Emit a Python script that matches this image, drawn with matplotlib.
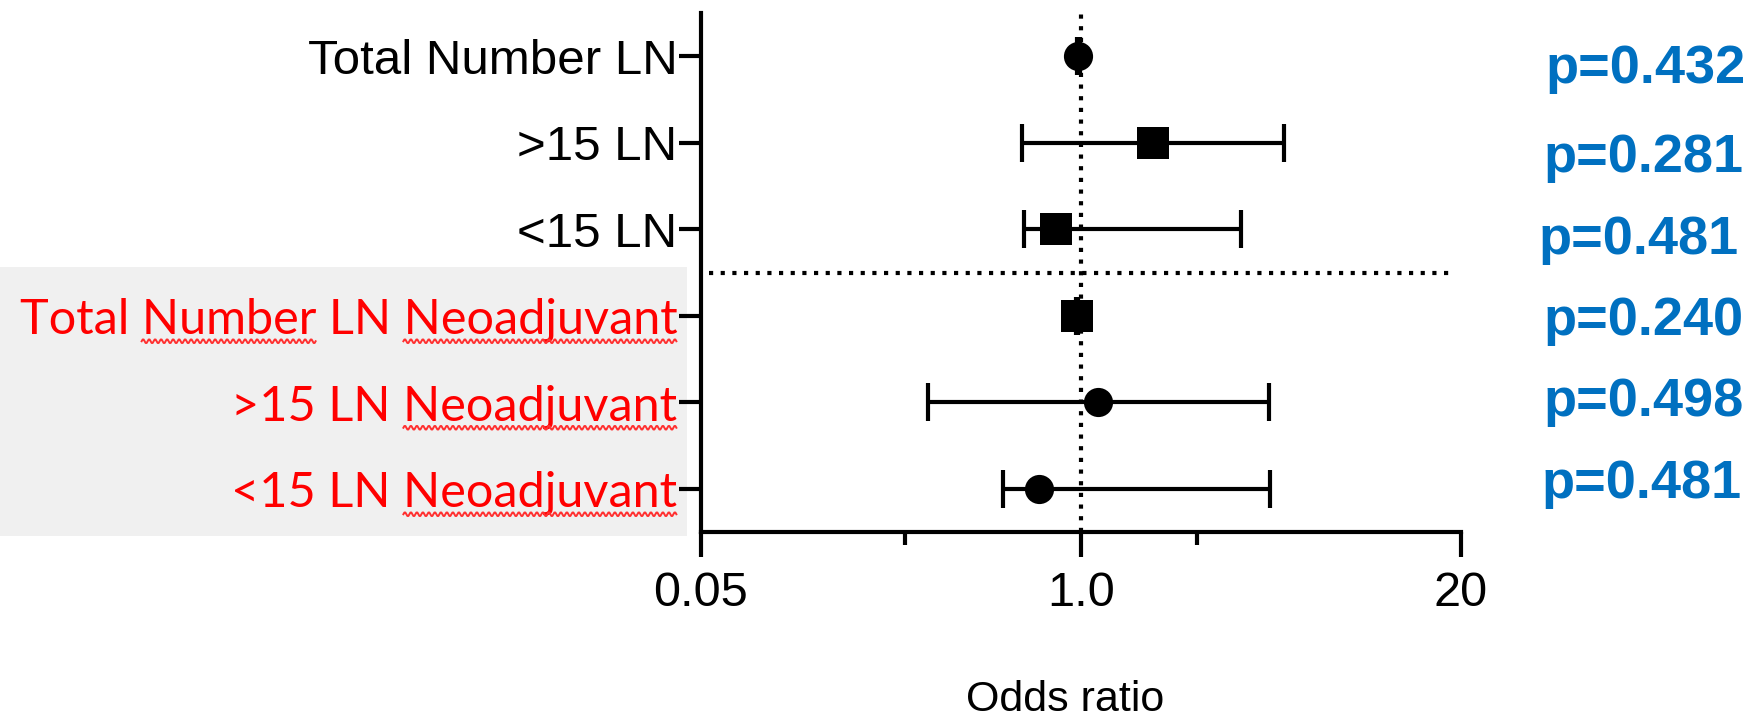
import numpy as np
import matplotlib.pyplot as plt
from matplotlib import transforms
from matplotlib.patches import Rectangle
from matplotlib.lines import Line2D
from matplotlib.ticker import NullFormatter

# odds ratios with 95% CI
labels = ['Total Number LN', '>15 LN', '<15 LN',
          'Total Number LN Neoadjuvant', '>15 LN Neoadjuvant', '<15 LN Neoadjuvant']
odds = [0.98, 1.76, 0.82, 0.97, 1.14, 0.72]
ci_low = [0.97, 0.63, 0.64, 0.96, 0.30, 0.54]
ci_high = [0.99, 4.94, 3.52, 0.98, 4.40, 4.42]
neoadj = [False, False, False, True, True, True]
p_values = ['p=0.432', 'p=0.281', 'p=0.481', 'p=0.240', 'p=0.498', 'p=0.481']
shapes = ['o', 's', 's', 's', 'o', 'o']

W, H = 1758, 718
fig = plt.figure(figsize=(W / 100, H / 100), dpi=100)
ax = fig.add_axes([701 / W, 1 - 532 / H, 760 / W, 519 / H])

# grey band behind the neoadjuvant labels
fig.add_artist(Rectangle((0, 1 - 536 / H), 687 / W, 269 / H, transform=fig.transFigure,
                         facecolor='#f0f0f0', edgecolor='none', zorder=-1))

y = np.arange(len(labels))
odds_a = np.array(odds)
xerr = [odds_a - np.array(ci_low), np.array(ci_high) - odds_a]

ax.axvline(1.0, color='black', lw=3, linestyle=(0, (1, 1.8)), zorder=1)
ax.axhline(2.5, xmin=0.01, xmax=0.99, color='black', lw=3, linestyle=(0, (1, 1.8)), zorder=1)

ax.errorbar(odds, y, xerr=xerr, fmt='none', ecolor='black', elinewidth=3,
            capsize=14, capthick=3, zorder=2)
for xi, yi, m in zip(odds, y, shapes):
    ax.plot(xi, yi, marker=m, color='black', markersize=21 if m == 'o' else 23,
            markeredgewidth=0, linestyle='none', zorder=3)

ax.set_xscale('log')
ax.set_xlim(0.05, 20)
ax.set_ylim(5.5, -0.5)

ax.set_xticks([0.05, 1, 20], ['0.05', '1.0', '20'])
ax.set_xticks([0.25, 2.5], minor=True)
ax.xaxis.set_minor_formatter(NullFormatter())
ax.set_yticks(y, labels)

for side in ['top', 'right']:
    ax.spines[side].set_visible(False)
for side in ['left', 'bottom']:
    ax.spines[side].set_linewidth(3)

ax.tick_params(axis='y', length=16, width=3, pad=1, labelsize=35.5)
ax.tick_params(axis='x', which='major', length=18, width=3, pad=10, labelsize=35)
ax.tick_params(axis='x', which='minor', length=9, width=3)
ax.tick_params(axis='y', which='minor', left=False)

for lab in ax.get_xticklabels() + ax.get_yticklabels():
    lab.set_fontfamily('Liberation Sans')
for lab, neo in zip(ax.get_yticklabels(), neoadj):
    if neo:
        lab.set_color('red')
        lab.set_fontfamily('Lato')
        lab.set_fontsize(35)

fig.text(1065 / W, 1 - 711 / H, 'Odds ratio', ha='center', va='baseline',
         fontsize=31, family='Liberation Sans')

p_base = [83, 172, 254, 335, 416, 498]
p_left = [1545, 1543, 1538, 1543, 1543, 1541]
for s, xb, yb in zip(p_values, p_left, p_base):
    fig.text(xb / W, 1 - yb / H, s, ha='left', va='baseline', fontsize=39,
             fontweight='bold', color='#0070C0', family='Liberation Sans')

# red wavy spell-check underlines under the neoadjuvant labels
fig.canvas.draw()
renderer = fig.canvas.get_renderer()
for lab, neo in zip(ax.get_yticklabels(), neoadj):
    if not neo:
        continue
    text = lab.get_text()
    bb = lab.get_window_extent(renderer)
    fp = lab.get_fontproperties()
    for word in ['Number', 'Neoadjuvant']:
        i = text.find(word)
        if i < 0:
            continue
        x0 = bb.x0 + renderer.get_text_width_height_descent(text[:i], fp, ismath=False)[0]
        x1 = bb.x0 + renderer.get_text_width_height_descent(text[:i + len(word)], fp, ismath=False)[0]
        xs = np.arange(x0, x1, 1.0)
        ys = bb.y0 + 1 + 2.0 * np.sin(2 * np.pi * (xs - x0) / 6)
        fig.add_artist(Line2D(xs, ys, color='#ff3030', lw=1.4,
                              transform=transforms.IdentityTransform()))

fig.savefig('out.png', dpi=100)
